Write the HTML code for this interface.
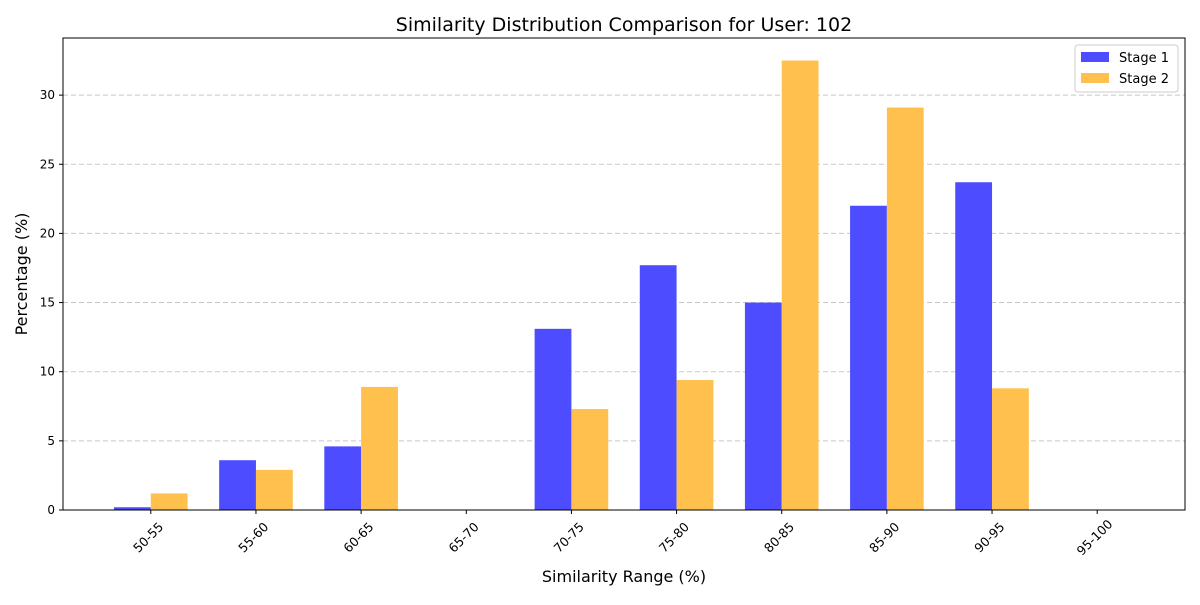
<!DOCTYPE html>
<html><head><meta charset="utf-8"><style>
body{margin:0;background:#fff;font-family:"Liberation Sans","DejaVu Sans",sans-serif}
</style></head><body>
<svg id="chart" width="1200" height="600" xmlns="http://www.w3.org/2000/svg" font-family="DejaVu Sans, Liberation Sans, sans-serif">
<rect width="1200" height="600" fill="#fff"/>
<g id="grid"></g><g id="bars"></g><g id="axes"></g>
</svg>
<script>
const categories=["50-55","55-60","60-65","65-70","70-75","75-80","80-85","85-90","90-95","95-100"];
const stage1=[0.2,3.6,4.6,0,13.1,17.7,15.0,22.0,23.7,0];
const stage2=[1.2,2.9,8.9,0,7.3,9.4,32.5,29.1,8.8,0];
const yTicks=[0,5,10,15,20,25,30];
const L=63,R=1185,T=38,B=510;
const xmin=-0.835,xmax=categories.length-1+0.835;
const ymax=34.13;
const xs=i=>L+(i-xmin)/(xmax-xmin)*(R-L);
const ys=v=>B-v/ymax*(B-T);
const unit=(R-L)/(xmax-xmin),bw=0.35*unit;
const NS="http://www.w3.org/2000/svg";
function mk(t,a,p,txt){const e=document.createElementNS(NS,t);for(const k in a)e.setAttribute(k,a[k]);if(txt!==undefined)e.textContent=txt;p.appendChild(e);return e;}
const grid=document.getElementById('grid'),bars=document.getElementById('bars'),axes=document.getElementById('axes');
yTicks.forEach(v=>{
 if(v>0){const g=mk('line',{x1:L,x2:R,y1:ys(v),y2:ys(v),stroke:'#c8c8c8','stroke-dasharray':'5,3','stroke-width':1},grid);
 
 }
 mk('line',{x1:L-4,x2:L,y1:ys(v),y2:ys(v),stroke:'#000'},axes);
 const t=mk('text',{x:L-8,y:ys(v)+4,'text-anchor':'end','font-size':12},axes,String(v));
 
 
});
categories.forEach((c,i)=>{
 const cx=xs(i);
 const b1=mk('rect',{x:cx-bw,y:ys(stage1[i]),width:bw,height:B-ys(stage1[i]),fill:'#4d4dff'},bars);
 
 
 const b2=mk('rect',{x:cx,y:ys(stage2[i]),width:bw,height:B-ys(stage2[i]),fill:'#ffc04d'},bars);
 
 
 mk('line',{x1:cx,x2:cx,y1:B,y2:B+4,stroke:'#000'},axes);
 const t=mk('text',{transform:`translate(${cx-2},${B+28}) rotate(-45)`,'text-anchor':'middle','font-size':12.5,'dominant-baseline':'middle'},axes,c);
 
 
});
mk('rect',{x:L,y:T,width:R-L,height:B-T,fill:'none',stroke:'#000','stroke-width':1},axes);
let e=mk('text',{x:624,y:31,'text-anchor':'middle','font-size':19},axes,'Similarity Distribution Comparison for User: 102');


e=mk('text',{x:624,y:582,'text-anchor':'middle','font-size':16},axes,'Similarity Range (%)');


e=mk('text',{transform:'translate(27,274) rotate(-90)','text-anchor':'middle','font-size':16},axes,'Percentage (%)');


const lg=mk('g',{},axes);


mk('rect',{x:1075,y:45,width:103,height:47,rx:3,fill:'#fff','fill-opacity':0.8,stroke:'#ccc'},lg);
mk('rect',{x:1081,y:52,width:28,height:10,fill:'#4d4dff'},lg);
mk('text',{x:1119,y:62,'font-size':13},lg,'Stage 1');
mk('rect',{x:1081,y:73,width:28,height:10,fill:'#ffc04d'},lg);
mk('text',{x:1119,y:83,'font-size':13},lg,'Stage 2');
</script>
</body></html>
